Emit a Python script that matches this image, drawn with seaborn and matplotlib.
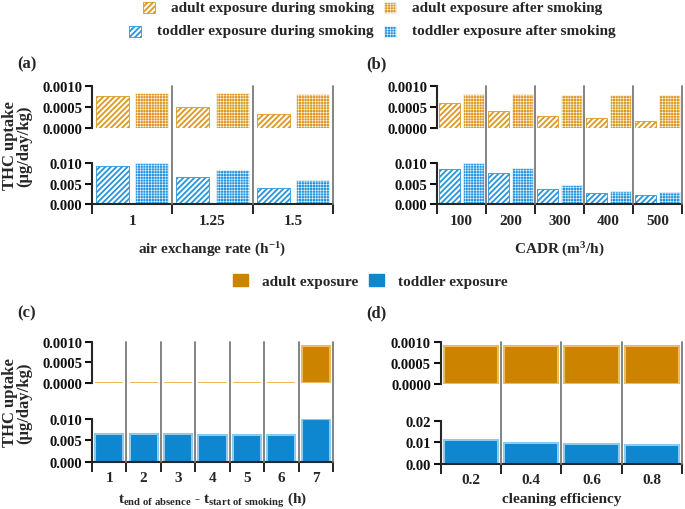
import numpy as np
import pandas as pd
import matplotlib
matplotlib.use("Agg")
import matplotlib.pyplot as plt
import seaborn as sns
from matplotlib.patches import Rectangle, Patch
from matplotlib.lines import Line2D
from matplotlib import transforms

# ---------------- data ----------------
phases = ["during smoking", "after smoking"]

ach_levels = ["1", "1.25", "1.5"]
ach_adult_during = [0.00076, 0.00049, 0.00034]
ach_adult_after = [0.00084, 0.00083, 0.00082]
ach_toddler_during = [0.0093, 0.0066, 0.0040]
ach_toddler_after = [0.0100, 0.0082, 0.0060]

cadr_levels = ["100", "200", "300", "400", "500"]
cadr_adult_during = [0.00059, 0.00041, 0.00029, 0.00023, 0.00017]
cadr_adult_after = [0.00082, 0.00081, 0.00080, 0.00080, 0.00079]
cadr_toddler_during = [0.0085, 0.0076, 0.0038, 0.0027, 0.0022]
cadr_toddler_after = [0.0100, 0.0087, 0.0047, 0.0033, 0.0030]

absence_levels = ["1", "2", "3", "4", "5", "6", "7"]
absence_adult = [0.00001, 0.00001, 0.00001, 0.00001, 0.00001, 0.00001, 0.00089]
absence_toddler = [0.0065, 0.0065, 0.0064, 0.0063, 0.0062, 0.0062, 0.0100]

clean_levels = ["0.2", "0.4", "0.6", "0.8"]
clean_adult = [0.00089, 0.00089, 0.00089, 0.00089]
clean_toddler = [0.0109, 0.0098, 0.0092, 0.0086]

# ---------------- style ----------------
sns.set_theme(style="ticks")
plt.rcParams["font.family"] = ["Liberation Serif", "DejaVu Serif"]
plt.rcParams["font.weight"] = "bold"
plt.rcParams["axes.labelweight"] = "bold"
plt.rcParams["mathtext.fontset"] = "custom"
plt.rcParams["mathtext.rm"] = "Liberation Serif:bold"
plt.rcParams["mathtext.it"] = "Liberation Serif:bold"
plt.rcParams["mathtext.bf"] = "Liberation Serif:bold"

ORANGE_H = "#DC9820"
ORANGE = "#CC8400"
BLUE_H = "#2596DD"
BLUE = "#0E86D0"
ORANGE_EDGE = "#EDBB5E"
BLUE_EDGE = "#8CCBF0"
SEP = "#7a7a7a"

W, H = 685, 510
fig = plt.figure(figsize=(W / 100, H / 100), dpi=100)


def ax_px(x0, y0, x1, y1):
    return fig.add_axes([x0 / W, 1 - y1 / H, (x1 - x0) / W, (y1 - y0) / H])


def set_hlw(p, lw):
    if hasattr(p, "set_hatch_linewidth"):
        p.set_hatch_linewidth(lw)


def style_during(p, col):
    p.set_facecolor("white")
    p.set_edgecolor(col)
    p.set_hatch("//////")
    p.set_linewidth(0.6)
    set_hlw(p, 1.3)


def style_after(p, col):
    p.set_facecolor(col)
    p.set_edgecolor("white")
    p.set_hatch("++++++")
    p.set_linewidth(0.4)
    set_hlw(p, 0.35)


def paired(ax, levels, during, after, col):
    n = len(levels)
    df = pd.DataFrame({
        "level": levels * 2,
        "phase": [phases[0]] * n + [phases[1]] * n,
        "value": list(during) + list(after),
    })
    sns.barplot(data=df, x="level", y="value", hue="phase", order=levels,
                hue_order=phases, palette=[col, col], width=0.98, gap=0.16,
                legend=False, errorbar=None, ax=ax)
    for i, p in enumerate(ax.patches):
        if i < n:
            style_during(p, col)
        else:
            style_after(p, col)


def single(ax, levels, values, col, edge, width):
    df = pd.DataFrame({"level": levels, "value": values})
    sns.barplot(data=df, x="level", y="value", order=levels, color=col,
                width=width, errorbar=None, ax=ax)
    for p in ax.patches:
        p.set_facecolor(col)
        p.set_edgecolor(edge)
        p.set_linewidth(1.5)


def style_axes(ax_top, ax_bot, n, top_ticks, top_labels, bot_lim, bot_ticks,
               bot_labels, xlabel, labelpad):
    for ax in (ax_top, ax_bot):
        ax.set_facecolor("none")
        ax.set_xlim(-0.5, n - 0.5)
        ax.set_ylabel("")
        ax.spines["top"].set_visible(False)
        ax.spines["right"].set_visible(False)
        ax.spines["left"].set_linewidth(1.5)
        ax.tick_params(axis="y", length=5, width=1.5, labelsize=10.5, pad=2,
                       colors="#111111")
    ax_top.set_ylim(0, 0.001)
    ax_top.set_yticks(top_ticks)
    ax_top.set_yticklabels(top_labels)
    ax_top.spines["bottom"].set_visible(False)
    ax_top.tick_params(axis="x", bottom=False, labelbottom=False)
    ax_top.set_xlabel("")

    ax_bot.set_ylim(*bot_lim)
    ax_bot.set_yticks(bot_ticks)
    ax_bot.set_yticklabels(bot_labels)
    ax_bot.spines["bottom"].set_linewidth(1.5)
    ax_bot.set_xticks(range(n))
    ax_bot.set_xticks(np.arange(-0.5, n, 1.0), minor=True)
    ax_bot.tick_params(axis="x", which="major", length=0, labelsize=11, pad=7)
    ax_bot.tick_params(axis="x", which="minor", length=7, width=1.3, color="#111111")
    ax_bot.set_xlabel(xlabel, fontsize=11, labelpad=labelpad)

    # group separators spanning both axes
    tr = transforms.blended_transform_factory(ax_bot.transData, fig.transFigure)
    y0 = ax_bot.get_position().y0
    y1 = ax_top.get_position().y1
    for k in range(1, n + 1):
        x = k - 0.5
        fig.add_artist(Line2D([x, x], [y0, y1], transform=tr, color=SEP, lw=1.3,
                              zorder=0.5))


# ---------------- panels ----------------
a_top = ax_px(92, 87.3, 333, 128.7)
a_bot = ax_px(92, 164, 333, 205.3)
b_top = ax_px(437, 87.3, 682, 128.7)
b_bot = ax_px(437, 164, 682, 205.3)
c_top = ax_px(92, 342.7, 333, 384)
c_bot = ax_px(92, 420, 333, 462.7)
d_top = ax_px(440.7, 342.7, 682, 384.7)
d_bot = ax_px(440.7, 422, 682, 464.7)

paired(a_top, ach_levels, ach_adult_during, ach_adult_after, ORANGE_H)
paired(a_bot, ach_levels, ach_toddler_during, ach_toddler_after, BLUE_H)
paired(b_top, cadr_levels, cadr_adult_during, cadr_adult_after, ORANGE_H)
paired(b_bot, cadr_levels, cadr_toddler_during, cadr_toddler_after, BLUE_H)
single(c_top, absence_levels, absence_adult, ORANGE, ORANGE_EDGE, 0.82)
single(c_bot, absence_levels, absence_toddler, BLUE, BLUE_EDGE, 0.82)
single(d_top, clean_levels, clean_adult, ORANGE, ORANGE_EDGE, 0.9)
single(d_bot, clean_levels, clean_toddler, BLUE, BLUE_EDGE, 0.9)

top_t = [0, 0.0005, 0.001]
top_l = ["0.0000", "0.0005", "0.0010"]
style_axes(a_top, a_bot, 3, top_t, top_l, (0, 0.010), [0, 0.005, 0.010],
           ["0.000", "0.005", "0.010"], "air exchange rate (h$^{-1}$)", 9)
style_axes(b_top, b_bot, 5, top_t, top_l, (0, 0.010), [0, 0.005, 0.010],
           ["0.000", "0.005", "0.010"], "CADR (m$^{3}$/h)", 9)
style_axes(c_top, c_bot, 7, top_t, top_l, (0, 0.010), [0, 0.005, 0.010],
           ["0.000", "0.005", "0.010"],
           r"$t_{end\ of\ absence}$ - $t_{start\ of\ smoking}$ (h)", 4)
style_axes(d_top, d_bot, 4, top_t, top_l, (0, 0.02), [0, 0.01, 0.02],
           ["0.00", "0.01", "0.02"], "cleaning efficiency", 4)

# y labels
for yc in (146, 403):
    fig.text(17 / W, 1 - yc / H, "THC uptake\n(μg/day/kg)", rotation=90,
             ha="center", va="center", fontsize=12, linespacing=0.9)

# panel labels
for lab, x, y in [("(a)", 17, 64), ("(b)", 366, 64), ("(c)", 17, 313), ("(d)", 366, 313)]:
    fig.text(x / W, 1 - y / H, lab, ha="left", va="center", fontsize=12)

# ---------------- top legend (manual, GraphPad style) ----------------
renderer = fig.canvas.get_renderer()
leg_rows = [
    (8.8, "adult exposure during smoking", ORANGE_H, "adult exposure after smoking", ORANGE_H),
    (32.0, "toddler exposure during smoking", BLUE_H, "toddler exposure after smoking", BLUE_H),
]
for y, t1, c1, t2, c2 in leg_rows:
    yf = 1 - y / H
    txt = fig.text(374 / W, yf, t1, ha="right", va="center", fontsize=11)
    bb = txt.get_window_extent(renderer=renderer)
    x_left = bb.x0
    r1 = Rectangle(((x_left - 28) / W, yf - 5.5 / H), 12 / W, 11 / H,
                   transform=fig.transFigure)
    style_during(r1, c1)
    fig.add_artist(r1)
    r2 = Rectangle((384 / W, yf - 5.5 / H), 12 / W, 11 / H, transform=fig.transFigure)
    style_after(r2, c2)
    fig.add_artist(r2)
    fig.text(412 / W, yf, t2, ha="left", va="center", fontsize=11)

# ---------------- middle legend ----------------
fig.legend(handles=[Patch(facecolor=ORANGE, edgecolor=ORANGE),
                    Patch(facecolor=BLUE, edgecolor=BLUE)],
           labels=["adult exposure", "toddler exposure"], ncol=2, loc="center",
           bbox_to_anchor=(370 / W, 1 - 282 / H), frameon=False, fontsize=11,
           handlelength=1.0, handleheight=0.8, handletextpad=0.9, columnspacing=0.7)

fig.savefig("out.png", dpi=100)
